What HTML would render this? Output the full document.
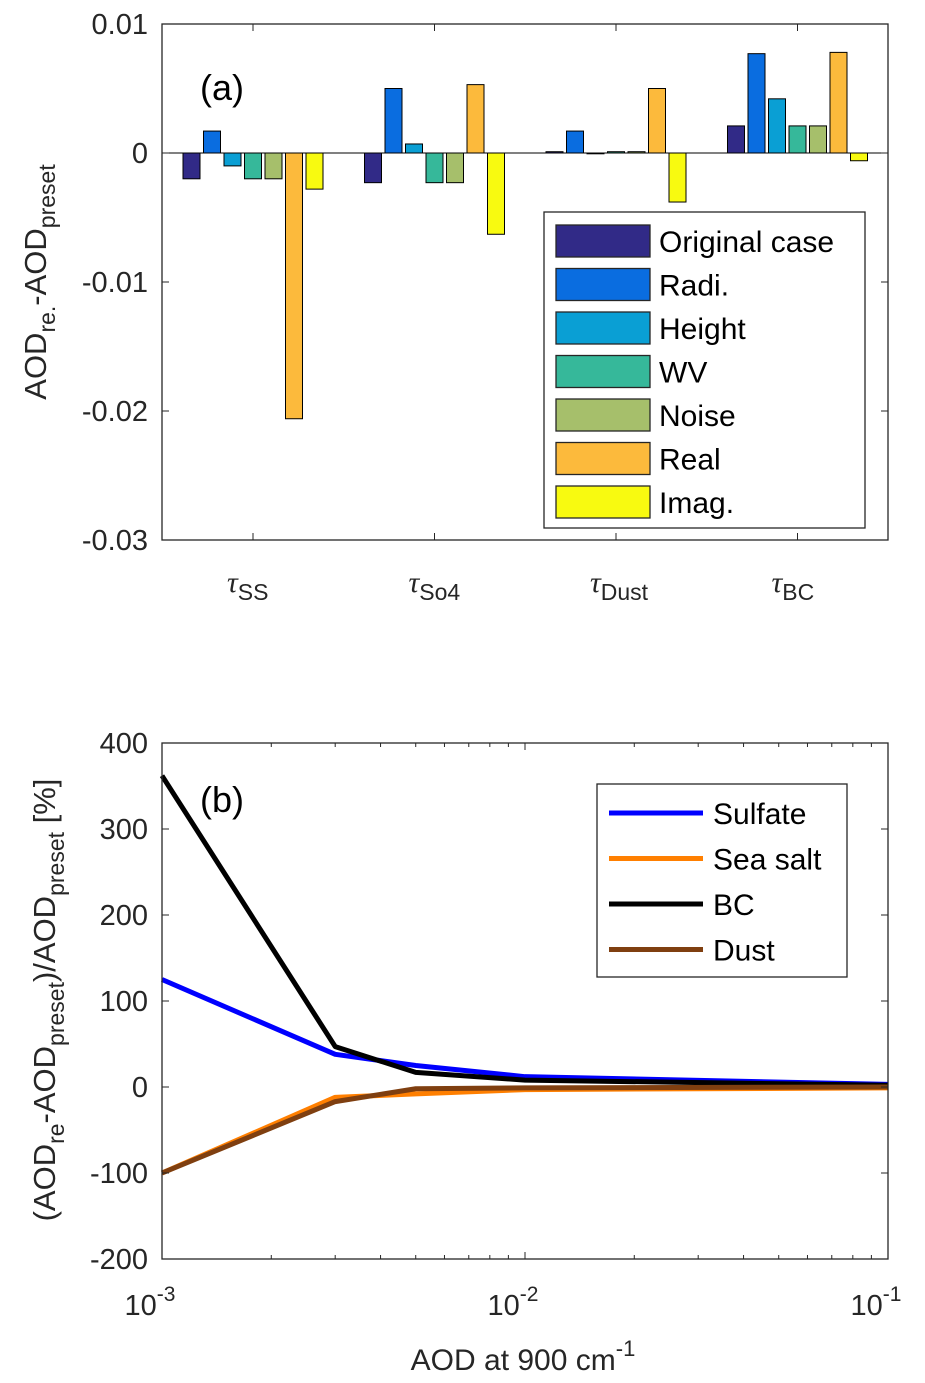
<!DOCTYPE html>
<html><head><meta charset="utf-8"><style>
body{margin:0;background:#fff}
svg{display:block;font-family:"Liberation Sans",sans-serif}
</style></head><body>
<svg id="fig" width="925" height="1383" viewBox="0 0 925 1383">
<g id="pa"></g>
<g id="pb"></g>
</svg>
<script>
const NS="http://www.w3.org/2000/svg";
function mk(p,t,a,txt){const e=document.createElementNS(NS,t);for(const k in a)e.setAttribute(k,a[k]);if(txt!==undefined)e.textContent=txt;p.appendChild(e);return e;}

// ---- Panel (a) data ----
const groupNames=["SS","So4","Dust","BC"];
const seriesNames=["Original case","Radi.","Height","WV","Noise","Real","Imag."];
const seriesColors=["#312a87","#0a6de0","#0a9fd4","#36b89a","#a6bf6b","#fcba3c","#f8fa10"];
const valOriginal=[-0.0020,-0.0023,0.0001,0.0021];
const valRadi=[0.0017,0.0050,0.0017,0.0077];
const valHeight=[-0.0010,0.0007,0.0000,0.0042];
const valWV=[-0.0020,-0.0023,0.0001,0.0021];
const valNoise=[-0.0020,-0.0023,0.0001,0.0021];
const valReal=[-0.0206,0.0053,0.0050,0.0078];
const valImag=[-0.0028,-0.0063,-0.0038,-0.0006];
const aYTicks=[0.01,0,-0.01,-0.02,-0.03];
const aYTickLabels=["0.01","0","-0.01","-0.02","-0.03"];

// ---- Panel (b) data ----
const bX=[0.001,0.003,0.005,0.01,0.1];
const bSulfate=[125,38,25,12,3];
const bSeaSalt=[-100,-12,-8,-3,-1];
const bBC=[362,47,17,8,2];
const bDust=[-100,-17,-2,-1,0];
const bSeriesNames=["Sulfate","Sea salt","BC","Dust"];
const bColors=["#0000ff","#ff7f00","#000000","#7f3f10"];
const bYTicks=[400,300,200,100,0,-100,-200];

(function(){
const g=document.getElementById('pa');
const L=162,R=888,T=24,B=540;
const y=v=>T+(0.01-v)/0.04*(B-T);
const gx=i=>253+i*181.5;
const all=[valOriginal,valRadi,valHeight,valWV,valNoise,valReal,valImag];
mk(g,'rect',{x:L,y:T,width:R-L,height:B-T,fill:'#fff'});
all.forEach((ser,s)=>ser.forEach((v,i)=>{
  const cx=gx(i)+(s-3)*20.5;
  const r=mk(g,'rect',{x:cx-8.5,y:Math.min(y(v),y(0)),width:17,height:Math.max(Math.abs(y(v)-y(0)),0.8),fill:seriesColors[s],stroke:'#000','stroke-width':1});
  
  
}));
mk(g,'line',{x1:L,x2:R,y1:y(0),y2:y(0),stroke:'#000','stroke-width':1});
mk(g,'rect',{x:L,y:T,width:R-L,height:B-T,fill:'none',stroke:'#262626','stroke-width':1.3});
aYTicks.forEach((v,i)=>{
  mk(g,'line',{x1:L,x2:L+7,y1:y(v),y2:y(v),stroke:'#262626'});
  mk(g,'line',{x1:R,x2:R-7,y1:y(v),y2:y(v),stroke:'#262626'});
  const t=mk(g,'text',{x:L-14,y:y(v)+10,'text-anchor':'end','font-size':29,fill:'#262626'},aYTickLabels[i]);
  
  
});
groupNames.forEach((n,i)=>{
  mk(g,'line',{x1:gx(i),x2:gx(i),y1:B,y2:B-7,stroke:'#262626'});
  mk(g,'line',{x1:gx(i),x2:gx(i),y1:T,y2:T+7,stroke:'#262626'});
  const t=mk(g,'text',{x:gx(i)-26,y:592,'font-size':28,fill:'#262626'});
  
  
  mk(t,'tspan',{'font-family':'Liberation Serif,serif','font-style':'italic','font-size':30},'τ');
  mk(t,'tspan',{dy:8,'font-size':23},n);
});
mk(g,'text',{x:200,y:100,'font-size':36,fill:'#000',},'(a)');
const yl=mk(g,'text',{transform:'translate(46,282) rotate(-90)','text-anchor':'middle','font-size':31,fill:'#262626',});
mk(yl,'tspan',{},'AOD');mk(yl,'tspan',{dy:9,'font-size':23},'re.');mk(yl,'tspan',{dy:-9},'-AOD');mk(yl,'tspan',{dy:9,'font-size':23},'preset');
const lg=mk(g,'g',{});
mk(lg,'rect',{x:544,y:212,width:321,height:316,fill:'#fff',stroke:'#262626','stroke-width':1.3});
seriesNames.forEach((n,s)=>{
  const cy=241+s*43.5;
  const e=mk(lg,'g',{});
  
  
  mk(e,'rect',{x:556,y:cy-16,width:94,height:32,fill:seriesColors[s],stroke:'#262626','stroke-width':1.3});
  mk(e,'text',{x:659,y:cy+11,'font-size':30,fill:'#000'},n);
});
})();

(function(){
const g=document.getElementById('pb');
const L=162,R=888,T=743,B=1259;
const x=v=>L+(Math.log10(v)+3)/2*(R-L);
const y=v=>T+(400-v)/600*(B-T);
mk(g,'rect',{x:L,y:T,width:R-L,height:B-T,fill:'#fff'});
const ser=[bSulfate,bSeaSalt,bBC,bDust];
[0,1,2,3].forEach(s=>{
  const p=mk(g,'polyline',{points:bX.map((v,i)=>x(v)+','+y(ser[s][i])).join(' '),fill:'none',stroke:bColors[s],'stroke-width':5,'stroke-linejoin':'round'});
  
  
});
mk(g,'rect',{x:L,y:T,width:R-L,height:B-T,fill:'none',stroke:'#262626','stroke-width':1.3});
bYTicks.forEach(v=>{
  mk(g,'line',{x1:L,x2:L+7,y1:y(v),y2:y(v),stroke:'#262626'});
  mk(g,'line',{x1:R,x2:R-7,y1:y(v),y2:y(v),stroke:'#262626'});
  const t=mk(g,'text',{x:L-14,y:y(v)+10,'text-anchor':'end','font-size':29,fill:'#262626'},String(v));
  
  
});
for(let d=-3;d<-1;d++)for(let m=1;m<10;m++){
  const xx=x(m*Math.pow(10,d));const len=m===1?7:4;
  mk(g,'line',{x1:xx,x2:xx,y1:B,y2:B-len,stroke:'#262626'});
  mk(g,'line',{x1:xx,x2:xx,y1:T,y2:T+len,stroke:'#262626'});
}
[-3,-2,-1].forEach(d=>{
  const t=mk(g,'text',{x:x(Math.pow(10,d))-12,y:1315,'text-anchor':'middle','font-size':29,fill:'#262626'});
  
  
  mk(t,'tspan',{},'10');mk(t,'tspan',{dy:-14,'font-size':21},String(d));
});
mk(g,'text',{x:200,y:812,'font-size':36,fill:'#000',},'(b)');
const xl=mk(g,'text',{x:523,y:1370,'text-anchor':'middle','font-size':30,fill:'#262626',});
mk(xl,'tspan',{},'AOD at 900 cm');mk(xl,'tspan',{dy:-14,'font-size':22},'-1');
const yl=mk(g,'text',{transform:'translate(55,1000) rotate(-90)','text-anchor':'middle','font-size':31,fill:'#262626',});
mk(yl,'tspan',{},'(AOD');mk(yl,'tspan',{dy:9,'font-size':23},'re');mk(yl,'tspan',{dy:-9},'-AOD');mk(yl,'tspan',{dy:9,'font-size':23},'preset');
mk(yl,'tspan',{dy:-9},')/AOD');mk(yl,'tspan',{dy:9,'font-size':23},'preset');mk(yl,'tspan',{dy:-9},' [%]');
const lg=mk(g,'g',{});
mk(lg,'rect',{x:597,y:784,width:250,height:193,fill:'#fff',stroke:'#262626','stroke-width':1.3});
bSeriesNames.forEach((n,s)=>{
  const cy=813+s*45.5;
  const e=mk(lg,'g',{});
  
  
  mk(e,'line',{x1:609,x2:703,y1:cy,y2:cy,stroke:bColors[s],'stroke-width':5});
  mk(e,'text',{x:713,y:cy+11,'font-size':30,fill:'#000'},n);
});
})();
</script>
</body></html>
